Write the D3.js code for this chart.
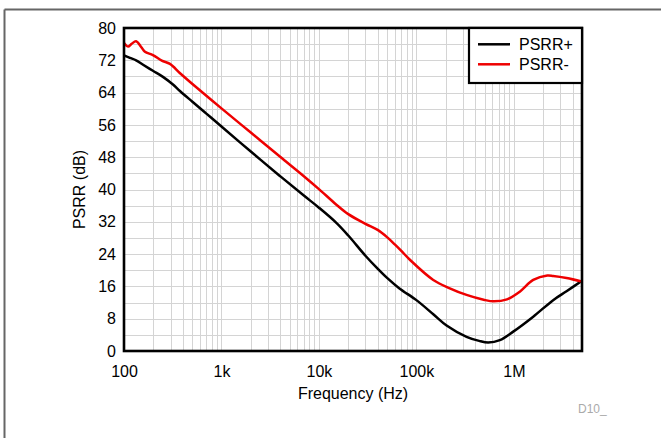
<!DOCTYPE html>
<html>
<head>
<meta charset="utf-8">
<script src="https://cdn.jsdelivr.net/npm/d3@7"></script>
<style>
  html, body { margin: 0; padding: 0; background: #fff; }
  svg { display: block; }
  text { font-family: "Liberation Sans", Arial, Helvetica, sans-serif; fill: #000; }
</style>
</head>
<body>
<svg id="chart" width="661" height="438"></svg>
<script>
// ---- data ----
const plusFreq = [100,115,133,157,198,251,318,375,500,700,1000,2000,4000,7000,10000,15000,20000,30000,40000,50000,67000,100000,149000,204000,327000,440000,546000,718000,985000,1580000,2530000,3470000,5000000];
const plusDb   = [73.2,72.6,72.0,70.9,69.4,67.9,66.0,64.4,61.8,58.8,55.6,49.4,43.3,38.5,35.5,31.8,28.6,23.6,20.4,18.1,15.5,12.6,9.1,6.3,3.5,2.5,2.1,2.7,4.8,8.5,12.6,14.8,17.4];

const minusFreq = [100,110,120,133,150,164,198,244,296,376,500,1000,2000,4000,7000,10000,15000,20000,30000,40000,50000,60000,70000,85700,149000,217000,327000,490000,622000,850000,1150000,1580000,2200000,2530000,3470000,5000000];
const minusDb   = [76.3,75.4,76.1,76.7,75.3,74.1,73.3,71.9,71.1,68.8,66.2,60.1,54.1,48.1,43.3,40.1,36.3,33.9,31.5,30.0,28.2,26.4,24.8,22.6,17.6,15.6,13.9,12.7,12.3,12.8,14.7,17.6,18.7,18.6,18.1,17.2];

const seriesNames = ["PSRR+", "PSRR-"];
const seriesColors = ["#000000", "#ee0000"];

const yTicks = [0,8,16,24,32,40,48,56,64,72,80];
const xTickValues = [100,1000,10000,100000,1000000];
const xTickLabels = ["100","1k","10k","100k","1M"];

const xTitle = "Frequency (Hz)";
const yTitle = "PSRR (dB)";
const footnote = "D10_";

// ---- layout ----
const L = 124, R = 582, T = 28, B = 351;
const svg = d3.select("#chart");

// page frame (top and left rules)
svg.append("line").attr("x1",4.5).attr("y1",9.5).attr("x2",661).attr("y2",9.5)
   .attr("stroke","#666").attr("stroke-width",2);
svg.append("line").attr("x1",4.5).attr("y1",9.5).attr("x2",4.5).attr("y2",438)
   .attr("stroke","#666").attr("stroke-width",2);

const x = d3.scaleLog().domain([100, 5e6]).range([L, R]);
const y = d3.scaleLinear().domain([0, 80]).range([B, T]);

// grid
const grid = svg.append("g");
const vLines = [];
for (let dec = 100; dec <= 1e6; dec *= 10) {
  for (let m = 1; m <= 9; m++) {
    const v = dec * m;
    if (v <= 5e6) vLines.push(v);
  }
}
grid.selectAll("line.v").data(vLines).enter().append("line")
  .attr("x1", d => Math.round(x(d)) + 0.5).attr("x2", d => Math.round(x(d)) + 0.5)
  .attr("y1", T).attr("y2", B)
  .attr("stroke", "#d4d4d4").attr("stroke-width", 1);
grid.selectAll("line.h").data(d3.range(0, 81, 4)).enter().append("line")
  .attr("x1", L).attr("x2", R)
  .attr("y1", d => Math.round(y(d)) + 0.5).attr("y2", d => Math.round(y(d)) + 0.5)
  .attr("stroke", "#d4d4d4").attr("stroke-width", 1);

// curves
const line = d3.line().x(d => x(d[0])).y(d => y(d[1])).curve(d3.curveCatmullRom.alpha(0.5));
const plusData = plusFreq.map((f, i) => [f, plusDb[i]]);
const minusData = minusFreq.map((f, i) => [f, minusDb[i]]);
svg.append("clipPath").attr("id","clip").append("rect")
  .attr("x", L).attr("y", T).attr("width", R - L).attr("height", B - T);
const curves = svg.append("g").attr("clip-path","url(#clip)");
curves.append("path").datum(plusData).attr("d", line)
  .attr("fill","none").attr("stroke", seriesColors[0]).attr("stroke-width", 2.5)
  .attr("stroke-linejoin","round");
curves.append("path").datum(minusData).attr("d", line)
  .attr("fill","none").attr("stroke", seriesColors[1]).attr("stroke-width", 2.5)
  .attr("stroke-linejoin","round");

// axes (labels only)
const yAxis = d3.axisLeft(y).tickValues(yTicks).tickSize(0).tickPadding(8);
const gy = svg.append("g").attr("transform", `translate(${L},0)`).call(yAxis);
gy.select(".domain").remove();
gy.selectAll("text").style("font-size","16px").attr("fill","#000");

const xAxis = d3.axisBottom(x).tickValues(xTickValues).tickSize(0).tickPadding(15)
  .tickFormat((d, i) => xTickLabels[i]);
const gx = svg.append("g").attr("transform", `translate(0,${B})`).call(xAxis);
gx.select(".domain").remove();
gx.selectAll("text").style("font-size","16px").attr("fill","#000");

// plot frame
svg.append("rect").attr("x", L).attr("y", T).attr("width", R - L).attr("height", B - T)
  .attr("fill","none").attr("stroke","#000").attr("stroke-width", 2.6);

// titles
svg.append("text").attr("x", (L + R) / 2).attr("y", 399).attr("text-anchor","middle")
  .style("font-size","16px").text(xTitle);
svg.append("text").attr("transform", `translate(85,${(T + B) / 2}) rotate(-90)`)
  .attr("text-anchor","middle").style("font-size","16px").text(yTitle);
svg.append("text").attr("x", 578).attr("y", 413).style("font-size","12px")
  .style("fill","#aaaaaa").text(footnote);

// legend
const lg = svg.append("g");
lg.append("rect").attr("x", 469).attr("y", T).attr("width", R - 469).attr("height", 83 - T)
  .attr("fill","#fff").attr("stroke","#000").attr("stroke-width", 2.2);
seriesNames.forEach((n, i) => {
  const yy = 44.3 + i * 20;
  lg.append("line").attr("x1", 478).attr("x2", 510).attr("y1", yy).attr("y2", yy)
    .attr("stroke", seriesColors[i]).attr("stroke-width", 2.5);
  lg.append("text").attr("x", 519).attr("y", yy + 5.8).style("font-size","16px").text(n);
});
</script>
</body>
</html>
